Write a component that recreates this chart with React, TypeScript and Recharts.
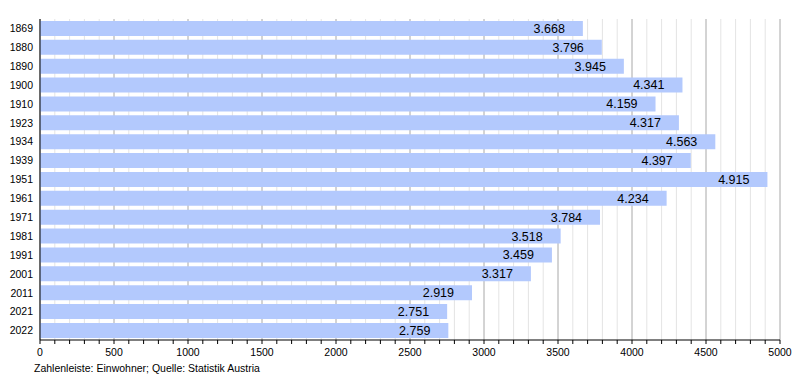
import React from "react";
import { BarChart, Bar, XAxis, YAxis, CartesianGrid, LabelList } from "recharts";

const years = ["1869", "1880", "1890", "1900", "1910", "1923", "1934", "1939", "1951", "1961", "1971", "1981", "1991", "2001", "2011", "2021", "2022"];
const population = [3668, 3796, 3945, 4341, 4159, 4317, 4563, 4397, 4915, 4234, 3784, 3518, 3459, 3317, 2919, 2751, 2759];
const xTicks = Array.from({ length: 51 }, (_, i) => i * 100);
const majorTicks = xTicks.filter((v) => v % 500 === 0);
const minorTicks = xTicks.filter((v) => v % 500 !== 0);
const footer = "Zahlenleiste: Einwohner; Quelle: Statistik Austria";
const X_MAX = 5000;

const data = years.map((y, i) => ({ year: y, value: population[i] }));

const FONT = "'Liberation Sans', Arial, sans-serif";
const fmt = (v: number) => v.toLocaleString("de-DE");

const gen = (vals: number[]) => (props: any) => {
  const { xAxis, offset } = props;
  const sc = xAxis && xAxis.scale;
  if (typeof sc === "function") return vals.map((v) => sc(v));
  if (sc && typeof sc.map === "function") return vals.map((v) => sc.map(v));
  return vals.map((v) => offset.left + (v / X_MAX) * offset.width);
};

export default function App() {
  return (
    <div style={{ position: "absolute", left: 0, top: 0, width: 800, height: 380, background: "#fff", fontFamily: FONT }}>
      <BarChart
        width={800}
        height={380}
        data={data}
        layout="vertical"
        margin={{ top: 19, right: 20, left: 0, bottom: 0 }}
        barCategoryGap="10%"
      >
        <CartesianGrid horizontal={false} stroke="#e4e4e4" verticalCoordinatesGenerator={gen(minorTicks)} />
        <CartesianGrid horizontal={false} stroke="#a8a8a8" verticalCoordinatesGenerator={gen(majorTicks)} />
        <XAxis
          type="number"
          domain={[0, X_MAX]}
          ticks={xTicks}
          interval={0}
          height={40}
          tickSize={4}
          tickMargin={5}
          stroke="#000"
          tick={{ fill: "#000", fontSize: 10.5, fontFamily: FONT }}
          tickFormatter={(v: number) => (v % 500 === 0 ? String(v) : "")}
        />
        <YAxis
          type="category"
          dataKey="year"
          width={40}
          tickSize={0}
          tickMargin={7}
          stroke="#000"
          tick={{ fill: "#000", fontSize: 10.5, fontFamily: FONT }}
        />
        <Bar dataKey="value" fill="#b3c9fd" isAnimationActive={false}>
          <LabelList
            dataKey="value"
            position="insideRight"
            offset={18}
            formatter={(v: any) => fmt(Number(v))}
            style={{ fill: "#000", fontSize: 12.5, fontFamily: FONT }}
          />
        </Bar>
        <text x={34} y={372} fontSize={10.5} fontFamily={FONT} fill="#000">
          {footer}
        </text>
      </BarChart>
    </div>
  );
}
